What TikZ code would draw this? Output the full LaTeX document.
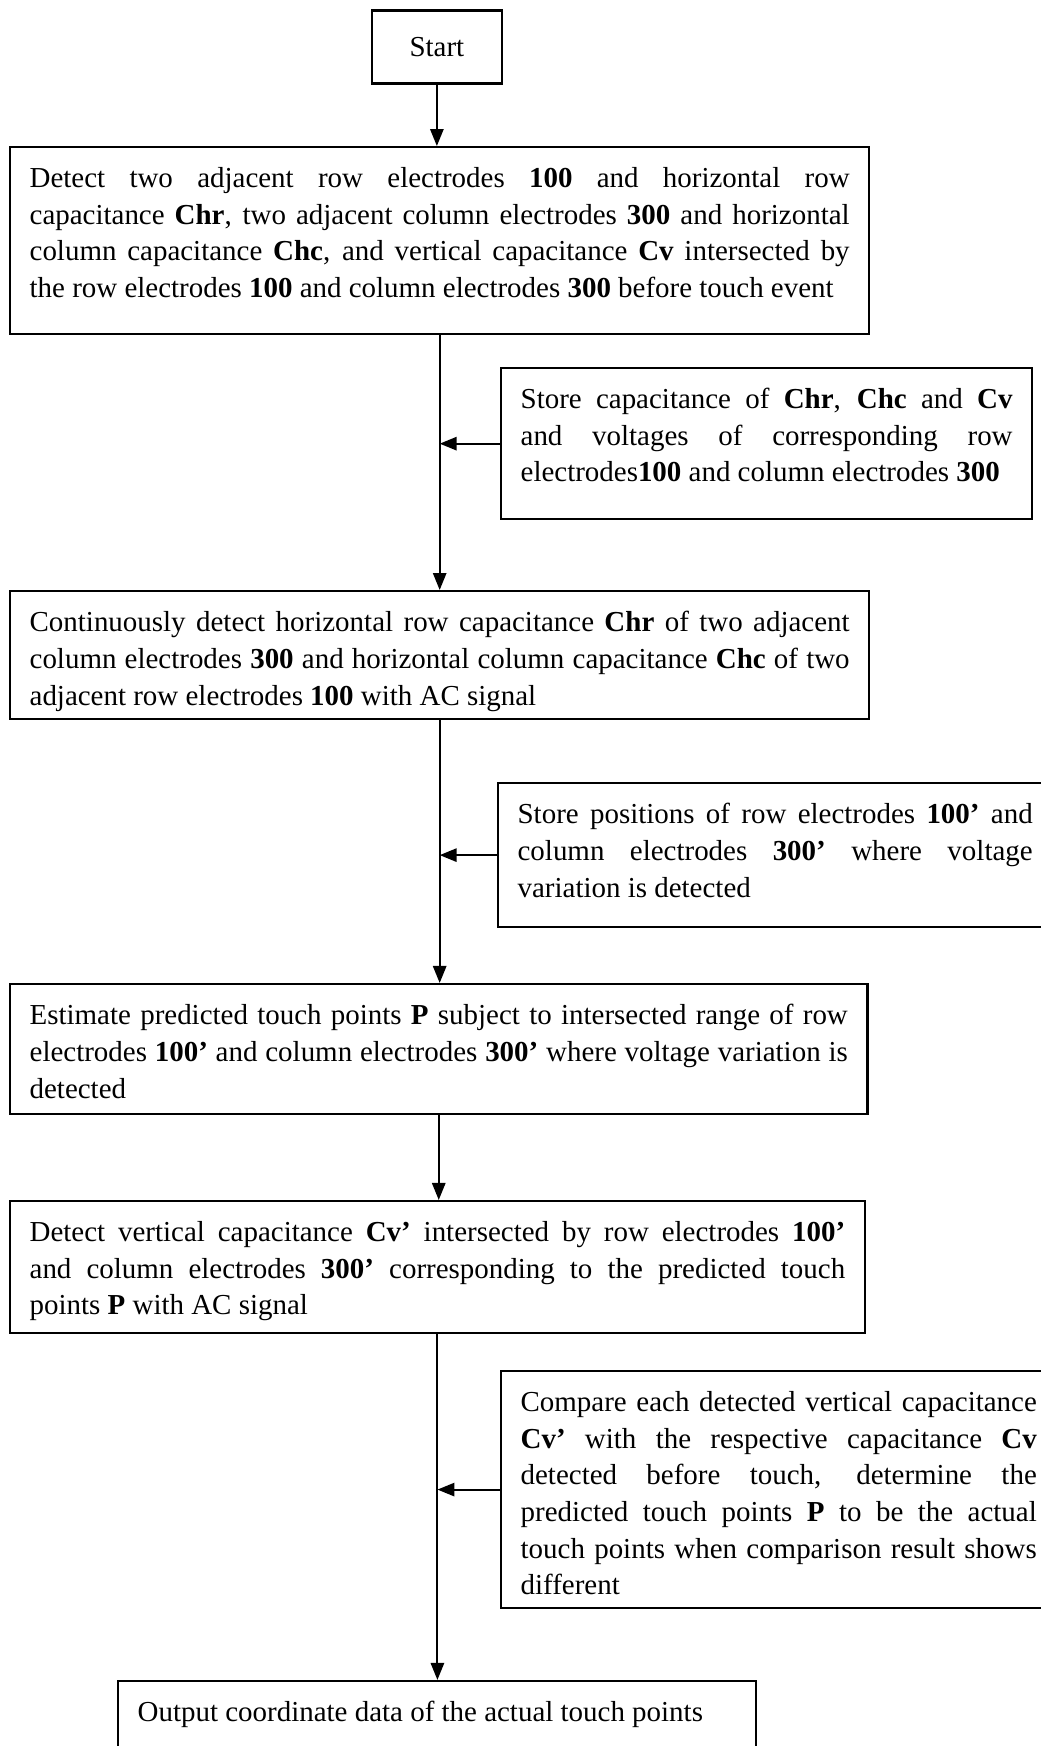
\documentclass[tikz,border=0pt]{standalone}
\usepackage{fontspec}
\setmainfont{Liberation Serif}
\usetikzlibrary{arrows.meta}
\usetikzlibrary{positioning}

\newcommand{\boxtext}[3]{\parbox[c][#2][t]{#1}{\hyphenpenalty=10000\exhyphenpenalty=10000\tolerance=10000\emergencystretch=2em #3}}

\begin{document}
\begin{tikzpicture}[
    font=\fontsize{10.9}{13.8}\selectfont,
    >={Triangle[length=6.4pt,width=5pt]},
    flowbox/.style={draw, line width=0.85pt, anchor=north west, inner xsep=7.35pt, inner ysep=7.6pt},
    startbox/.style={draw, line width=0.85pt, anchor=north, minimum width=1.72cm, minimum height=0.966cm, inner sep=0pt},
    flow/.style={draw, line width=0.75pt, ->}
    ]
    \useasboundingbox (0,0) rectangle (13.76,-23.10);

    \node[startbox] (start) at (5.78,-0.123) {Start};

    \node[flowbox] (detect) at (0.119,-1.932) {\boxtext{308.7pt}{55.2pt}{%
    Detect two adjacent row electrodes \textbf{100} and horizontal row\linebreak
    capacitance \textbf{Chr}, two adjacent column electrodes \textbf{300} and horizontal\linebreak
    column capacitance \textbf{Chc}, and vertical capacitance \textbf{Cv} intersected by\linebreak
    the row electrodes \textbf{100} and column electrodes \textbf{300} before touch event}};

    \node[flowbox] (storeA) at (6.615,-4.855) {\boxtext{185.2pt}{41.7pt}{%
    Store capacitance of \textbf{Chr}, \textbf{Chc} and \textbf{Cv}\linebreak
    and voltages of corresponding row\linebreak
    electrodes\textbf{100} and column electrodes \textbf{300}}};

    \node[flowbox] (detectAC) at (0.119,-7.806) {\boxtext{308.7pt}{33pt}{%
    Continuously detect horizontal row capacitance \textbf{Chr} of two adjacent\linebreak
    column electrodes \textbf{300} and horizontal column capacitance \textbf{Chc} of two\linebreak
    adjacent row electrodes \textbf{100} with AC signal}};

    \node[flowbox] (storeB) at (6.575,-10.346) {\boxtext{193.9pt}{39pt}{%
    Store positions of row electrodes \textbf{100’} and\linebreak
    column electrodes \textbf{300’} where voltage\linebreak
    variation is detected}};

    \node[flowbox] (estimate) at (0.119,-13.005) {\boxtext{308pt}{33.7pt}{%
    Estimate predicted touch points \textbf{P} subject to intersected range of row\linebreak
    electrodes \textbf{100’} and column electrodes \textbf{300’} where voltage variation is\linebreak
    detected}};

    \node[flowbox] (detectCv) at (0.119,-15.876) {\boxtext{307pt}{34.5pt}{%
    Detect vertical capacitance \textbf{Cv’} intersected by row electrodes \textbf{100’}\linebreak
    and column electrodes \textbf{300’} corresponding to the predicted touch\linebreak
    points \textbf{P} with AC signal}};

    \node[flowbox] (compare) at (6.615,-18.125) {\boxtext{194.3pt}{74pt}{%
    Compare each detected vertical capacitance\linebreak
    \textbf{Cv’} with the respective capacitance \textbf{Cv}\linebreak
    detected before touch, determine the\linebreak
    predicted touch points \textbf{P} to be the actual\linebreak
    touch points when comparison result shows\linebreak
    different}};

    \node[flowbox] (output) at (1.548,-22.226) {\boxtext{225.5pt}{40pt}{%
    Output coordinate data of the actual touch points}};

    % main flow
    \draw[flow] (start.south) -- (start.south |- detect.north);
    \draw[flow] (detect.south) -- (detect.south |- detectAC.north);
    \draw[flow] (detectAC.south) -- (detectAC.south |- estimate.north);
    \draw[flow] (estimate.south) -- (estimate.south |- detectCv.north);
    \draw[flow] (detectCv.south) -- (detectCv.south |- output.north);

    % side inputs
    \draw[flow] (storeA.west) -- (storeA.west -| detect.south);
    \draw[flow] (storeB.west) -- (storeB.west -| detectAC.south);
    \draw[flow] (compare.west) -- (compare.west -| detectCv.south);
\end{tikzpicture}
\end{document}
